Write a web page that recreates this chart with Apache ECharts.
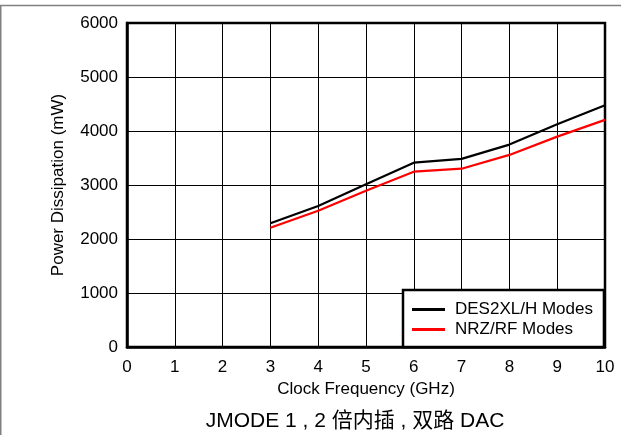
<!DOCTYPE html>
<html>
<head>
<meta charset="utf-8">
<script src="https://cdn.jsdelivr.net/npm/echarts@6/dist/echarts.min.js"></script>
<style>html,body{margin:0;padding:0;background:#fff;}#c{width:621px;height:435px;}</style>
</head>
<body>
<div id="c"></div>
<script>
var freqs = [3, 4, 5, 6, 7, 8, 9, 10];
var des2xl = [2290, 2610, 3013, 3414, 3483, 3748, 4126, 4478];
var nrzrf = [2208, 2523, 2894, 3247, 3302, 3557, 3896, 4206];
var seriesNames = ['DES2XL/H Modes', 'NRZ/RF Modes'];
var xName = 'Clock Frequency (GHz)';
var yName = 'Power Dissipation (mW)';
var caption = 'JMODE 1 , 2 倍内插 , 双路 DAC';

var FONT = "'Liberation Sans', Arial, 'Noto Sans CJK SC', sans-serif";
function pairs(xs, ys) { return xs.map(function (x, i) { return [x, ys[i]]; }); }

var chart = echarts.init(document.getElementById('c'), null, { renderer: 'canvas' });
chart.setOption({
  animation: false,
  backgroundColor: '#fff',
  textStyle: { fontFamily: FONT, color: '#000' },
  grid: { left: 127, right: 16, top: 23, bottom: 88, show: true, borderColor: '#000', borderWidth: 2.5, containLabel: false },
  xAxis: {
    type: 'value', min: 0, max: 10, interval: 1,
    name: xName, nameLocation: 'middle', nameGap: 28,
    nameTextStyle: { fontSize: 17, color: '#000', fontFamily: FONT },
    axisLine: { show: true, lineStyle: { color: '#000', width: 2.5 } },
    axisTick: { show: false },
    axisLabel: { fontSize: 17, color: '#000', margin: 12, fontFamily: FONT, formatter: function (v) { return String(v); } },
    splitLine: { show: true, lineStyle: { color: '#000', width: 1 } }
  },
  yAxis: {
    type: 'value', min: 0, max: 6000, interval: 1000,
    name: yName, nameLocation: 'middle', nameGap: 60,
    nameTextStyle: { fontSize: 17, color: '#000', fontFamily: FONT },
    axisLine: { show: true, lineStyle: { color: '#000', width: 2.5 } },
    axisTick: { show: false },
    axisLabel: { fontSize: 17, color: '#000', margin: 9, fontFamily: FONT, formatter: function (v) { return String(v); } },
    splitLine: { show: true, lineStyle: { color: '#000', width: 1 } }
  },
  legend: {
    orient: 'vertical', left: 403, top: 290,
    padding: [11, 11, 9, 9], itemGap: 3,
    itemWidth: 33, itemHeight: 3, icon: 'rect',
    backgroundColor: '#fff', borderColor: '#000', borderWidth: 2.5,
    textStyle: { fontSize: 17, color: '#000', fontFamily: FONT, padding: [0, 0, 0, 5] },
    data: seriesNames
  },
  title: {
    text: caption, left: 355, top: 411, textAlign: 'center',
    padding: 0,
    textStyle: { fontSize: 21, fontWeight: 'normal', color: '#000', fontFamily: FONT }
  },
  graphic: [
    { type: 'line', silent: true, shape: { x1: 0, y1: 5.5, x2: 621, y2: 5.5 }, style: { stroke: '#808080', lineWidth: 1.5 } },
    { type: 'line', silent: true, shape: { x1: 0.75, y1: 5, x2: 0.75, y2: 435 }, style: { stroke: '#808080', lineWidth: 1.5 } }
  ],
  series: [
    { name: seriesNames[0], type: 'line', data: pairs(freqs, des2xl), symbol: 'none', color: '#000', lineStyle: { color: '#000', width: 2.2 }, z: 3 },
    { name: seriesNames[1], type: 'line', data: pairs(freqs, nrzrf), symbol: 'none', color: '#ff0000', lineStyle: { color: '#ff0000', width: 2.2 }, z: 3 }
  ]
});
</script>
</body>
</html>
